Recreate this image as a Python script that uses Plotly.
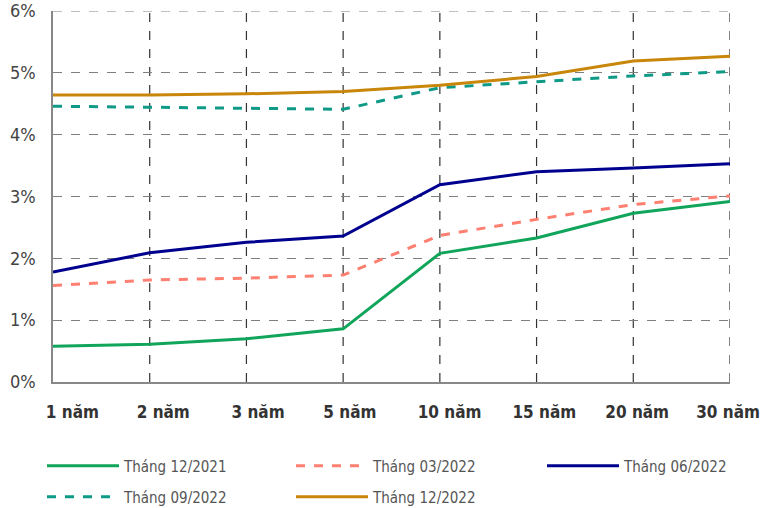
import plotly.graph_objects as go

categories = ["1 năm", "2 năm", "3 năm", "5 năm", "10 năm", "15 năm", "20 năm", "30 năm"]
s_12_2021 = [0.58, 0.61, 0.70, 0.86, 2.08, 2.33, 2.73, 2.92]
s_03_2022 = [1.56, 1.65, 1.68, 1.73, 2.37, 2.63, 2.87, 3.01]
s_06_2022 = [1.78, 2.09, 2.26, 2.36, 3.19, 3.40, 3.46, 3.53]
s_09_2022 = [4.46, 4.44, 4.42, 4.41, 4.76, 4.86, 4.95, 5.02]
s_12_2022 = [4.64, 4.64, 4.66, 4.70, 4.80, 4.94, 5.19, 5.27]
series_names = ["Tháng 12/2021", "Tháng 03/2022", "Tháng 06/2022", "Tháng 09/2022", "Tháng 12/2022"]
y_ticks = [0, 1, 2, 3, 4, 5, 6]
y_tick_labels = ["0%", "1%", "2%", "3%", "4%", "5%", "6%"]

series = [s_12_2021, s_03_2022, s_06_2022, s_09_2022, s_12_2022]
colors = ["#10a55a", "#ff7f70", "#00008f", "#0e9a86", "#c8860a"]
dashes = ["solid", "dash", "solid", "dash", "solid"]

W, H = 761, 508

# legend slot positions (page pixels): (left, center y)
legend_slots = [(42, 466), (291, 466), (542, 466), (42, 497), (291, 497)]

x_idx = list(range(len(categories)))
label_shift = [0.20, 0.14, 0.12, 0.07, 0.10, 0.08, 0.04, -0.02]

FONT = "DejaVu Sans Condensed, Liberation Sans Narrow, sans-serif"

fig = go.Figure()
legend_layout = {}
for k, (name, vals, col, dsh) in enumerate(zip(series_names, series, colors, dashes)):
    lid = "legend" if k == 0 else f"legend{k + 1}"
    fig.add_trace(go.Scatter(
        x=x_idx, y=vals, mode="lines", name=name, legend=lid,
        line=dict(color=col, width=3, dash=dsh),
    ))
    lx, ly = legend_slots[k]
    legend_layout[lid] = dict(
        orientation="v", xref="container", yref="container",
        x=lx / W, xanchor="left",
        y=1 - ly / H, yanchor="middle",
        font=dict(family=FONT, size=15, color="#555555"),
        itemwidth=72, bgcolor="rgba(0,0,0,0)",
    )

fig.update_layout(
    width=W, height=H,
    margin=dict(l=53, r=761 - 730, t=11, b=508 - 382, autoexpand=False),
    plot_bgcolor="white", paper_bgcolor="white",
    font=dict(family=FONT, color="#333333"),
    showlegend=True,
    **legend_layout,
)

fig.update_xaxes(
    range=[0, len(categories) - 1],
    tickvals=[i + s for i, s in zip(x_idx, label_shift)],
    ticktext=categories,
    tickfont=dict(family=FONT, size=17, color="#333333", weight="bold"),
    showgrid=False, zeroline=False, automargin=False,
    showline=True, linecolor="#888888", linewidth=1.5,
    ticks="", ticklabelstandoff=14, ticklabeloverflow="allow",
)
fig.update_yaxes(
    range=[0, 6],
    tickvals=y_ticks, ticktext=y_tick_labels,
    tickfont=dict(family=FONT, size=18, color="#444444"),
    showgrid=True, gridcolor="#7f7f7f", griddash="dash", gridwidth=1.2,
    zeroline=False, automargin=False,
    showline=True, linecolor="#888888", linewidth=1.5,
    ticks="", ticklabelstandoff=12, ticklabeloverflow="allow",
)

# vertical dashed gridlines at each category
for i in x_idx[1:]:
    fig.add_shape(type="line", xref="x", yref="paper", x0=i, x1=i, y0=0, y1=1,
                  line=dict(color="#333333", width=1.2, dash="dash"), layer="below")
# top dashed border (gridline at the top of the range)
fig.add_shape(type="line", xref="paper", yref="y", x0=0, x1=1, y0=y_ticks[-1], y1=y_ticks[-1],
              line=dict(color="#7f7f7f", width=1.2, dash="dash"), layer="below")

fig.write_html(
    "out.html",
    config={"displayModeBar": False},
    post_script="document.body.style.margin='0';document.body.style.overflow='hidden';",
)
